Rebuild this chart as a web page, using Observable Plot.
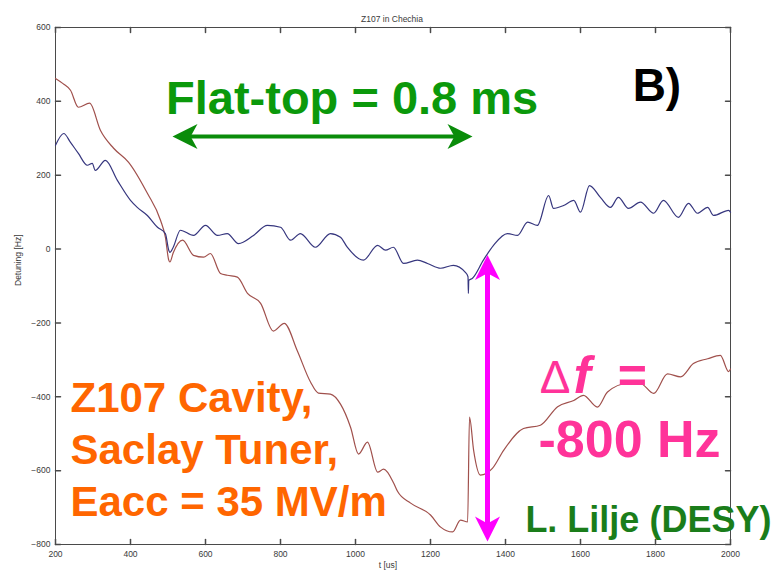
<!DOCTYPE html>
<html>
<head>
<meta charset="utf-8">
<script src="https://cdn.jsdelivr.net/npm/d3@7"></script>
<script src="https://cdn.jsdelivr.net/npm/@observablehq/plot@0.6"></script>
<style>
  body { margin: 0; background: #fff; }
  #chart { width: 781px; height: 574px; }
</style>
</head>
<body>
<div id="chart"></div>
<script>
// Detuning during the RF pulse, Z107 cavity in Chechia (time in µs, detuning in Hz)
const blueT = [200, 222, 240, 261, 285, 298, 306, 333, 365, 400, 418, 445, 472, 493, 502, 505, 514, 533, 568, 600,
  632, 658, 688, 728, 765, 800, 827, 853, 893, 933, 960, 978, 1021, 1059, 1080, 1101, 1128, 1165, 1192, 1227,
  1261, 1293, 1300, 1301, 1302, 1312, 1341, 1368, 1405, 1432, 1459, 1485, 1515, 1528, 1555, 1582, 1600, 1624,
  1653, 1680, 1701, 1728, 1760, 1795, 1821, 1861, 1888, 1912, 1939, 1955, 1995, 2000];
const blueHz = [281, 313, 289, 259, 227, 232, 213, 240, 186, 132, 113, 91, 59, 42, -3, -9, 5, 51, 37, 64,
  37, 42, 15, 37, 64, 59, 24, 42, 5, 42, 32, 5, -30, 10, -3, 5, -39, -30, -39, -52,
  -44, -63, -75, -120, -85, -79, -30, 10, 42, 37, 73, 64, 145, 110, 118, 132, 100, 172,
  140, 113, 140, 110, 127, 97, 132, 86, 124, 97, 113, 91, 105, 100];

const redT = [200, 220, 240, 261, 291, 320, 355, 395, 445, 480, 493, 502, 505, 514, 539, 568, 595, 613, 640, 658,
  685, 712, 747, 781, 810, 845, 880, 901, 933, 960, 987, 1008, 1032, 1059, 1075, 1102, 1112, 1147, 1200, 1227,
  1259, 1280, 1299, 1304, 1315, 1333, 1365, 1395, 1448, 1493, 1539, 1582, 1608, 1645, 1672, 1725, 1760, 1795,
  1832, 1867, 1901, 1939, 1973, 1995, 2000];
const redHz = [462, 448, 430, 384, 395, 321, 273, 235, 151, 78, 32, -30, -35, -10, 24, -17, -22, -12, -66, -71,
  -76, -120, -147, -222, -201, -276, -360, -390, -393, -420, -483, -555, -523, -604, -596, -634, -656, -688, -720, -753,
  -766, -734, -739, -455, -545, -612, -594, -545, -486, -477, -427, -410, -396, -428, -387, -364, -364, -391,
  -338, -346, -310, -297, -288, -332, -325];

const xTicks = [200, 400, 600, 800, 1000, 1200, 1400, 1600, 1800, 2000];
const yTicks = [-800, -600, -400, -200, 0, 200, 400, 600];

// Flat-top window (µs) and the detuning swing (Hz)
const flatTopStart = 512;
const flatTopEnd = 1312;
const swingTime = 1352;
const swingTop = 0;
const swingBottom = -800;

const blue = blueT.map((t, i) => ({t, hz: blueHz[i]}));
const red = redT.map((t, i) => ({t, hz: redHz[i]}));

const font = "Liberation Sans, Arial, Helvetica, sans-serif";

// Filled barbed arrowhead, tip at the origin, pointing up
const barb = {
  draw(ctx, size) {
    const r = Math.sqrt(size / Math.PI);
    ctx.moveTo(0, 0);
    ctx.lineTo(r, 2 * r);
    ctx.lineTo(0, 1.45 * r);
    ctx.lineTo(-r, 2 * r);
    ctx.closePath();
  }
};

// Short inward tick, drawn from the anchor along the vector direction
const tickShape = {
  draw(ctx, l) {
    ctx.moveTo(0, 0);
    ctx.lineTo(0, -l);
  }
};

const frameColor = "#4a4a4a";
const tickText = "#3a3a3a";

const chart = Plot.plot({
  width: 781,
  height: 574,
  marginLeft: 55,
  marginRight: 51,
  marginTop: 27,
  marginBottom: 30,
  style: {fontFamily: font, background: "#fff", overflow: "visible"},
  x: {type: "linear", domain: [200, 2000]},
  y: {type: "linear", domain: [-800, 600]},
  marks: [
    // tick labels
    Plot.axisX(xTicks, {anchor: "bottom", tickSize: 0, tickPadding: 6, tickFormat: "d", fontSize: 8.5, fill: tickText, label: null}),
    Plot.axisY(yTicks, {anchor: "left", tickSize: 0, tickPadding: 5, tickFormat: "d", fontSize: 8.5, fill: tickText, label: null}),
    // inward ticks on all four sides
    Plot.vector(xTicks, {x: d => d, frameAnchor: "bottom", rotate: 0, length: 5, anchor: "start", shape: tickShape, stroke: frameColor}),
    Plot.vector(xTicks, {x: d => d, frameAnchor: "top", rotate: 180, length: 5, anchor: "start", shape: tickShape, stroke: frameColor}),
    Plot.vector(yTicks, {y: d => d, frameAnchor: "left", rotate: 90, length: 5, anchor: "start", shape: tickShape, stroke: frameColor}),
    Plot.vector(yTicks, {y: d => d, frameAnchor: "right", rotate: -90, length: 5, anchor: "start", shape: tickShape, stroke: frameColor}),
    Plot.frame({stroke: frameColor, strokeWidth: 1}),
    // axis titles and plot title
    Plot.text(["t [us]"], {frameAnchor: "bottom", dx: -5, dy: 23, fontSize: 8.5, fill: tickText}),
    Plot.text(["Detuning [Hz]"], {frameAnchor: "left", dx: -37, rotate: -90, fontSize: 8.5, fill: tickText}),
    Plot.text(["Z107 in Chechia"], {frameAnchor: "top", dx: -1, dy: -12, fontSize: 8.5, fill: tickText}),
    // detuning traces
    Plot.line(red, {x: "t", y: "hz", curve: "monotone-x", stroke: "#a0504c", strokeWidth: 1.2}),
    Plot.line(blue, {x: "t", y: "hz", curve: "monotone-x", stroke: "#36367e", strokeWidth: 1.2}),
    // flat-top duration arrow
    Plot.arrow([0], {x1: flatTopStart, x2: flatTopEnd, y1: 305, y2: 305, headLength: 0, insetStart: 15, insetEnd: 15, stroke: "#0a8c0a", strokeWidth: 4}),
    Plot.dot([flatTopStart], {x: d => d, y: 305, symbol: barb, r: 12.5, rotate: -90, fill: "#0a8c0a", stroke: null}),
    Plot.dot([flatTopEnd], {x: d => d, y: 305, symbol: barb, r: 12.5, rotate: 90, fill: "#0a8c0a", stroke: null}),
    Plot.text(["Flat-top = 0.8 ms"], {x: 991, y: 365, textAnchor: "middle", lineAnchor: "bottom", fontSize: 47, fontWeight: "bold", fill: "#0b990b"}),
    Plot.text(["B)"], {x: 1739, y: 402, textAnchor: "start", lineAnchor: "bottom", fontSize: 46, fontWeight: "bold", fill: "#000"}),
    // detuning swing arrow
    Plot.arrow([0], {x1: swingTime, x2: swingTime, y1: swingTop, y2: swingBottom, headLength: 0, insetStart: 20, insetEnd: 12, stroke: "#ff00ff", strokeWidth: 5}),
    Plot.dot([swingTop], {x: swingTime, y: d => d, symbol: barb, r: 12.5, rotate: 0, dy: 6, fill: "#ff00ff", stroke: null}),
    Plot.dot([swingBottom], {x: swingTime, y: d => d, symbol: barb, r: 12.5, rotate: 180, dy: -3, fill: "#ff00ff", stroke: null}),
    Plot.text(["\u0394"], {x: 1491, y: -390, textAnchor: "start", lineAnchor: "bottom", fontSize: 46, fill: "#ff3399"}),
    Plot.text(["f"], {x: 1581, y: -390, textAnchor: "start", lineAnchor: "bottom", fontSize: 52, fontWeight: "bold", fontStyle: "italic", fill: "#ff3399"}),
    Plot.text(["="], {x: 1699, y: -390, textAnchor: "start", lineAnchor: "bottom", fontSize: 50, fontWeight: "bold", fill: "#ff3399"}),
    Plot.text(["-800 Hz"], {x: 1488, y: -564, textAnchor: "start", lineAnchor: "bottom", fontSize: 52, fontWeight: "bold", fill: "#ff3399"}),
    // cavity description and credit
    Plot.text(["Z107 Cavity,\nSaclay Tuner,\nEacc = 35 MV/m"], {x: 240, y: -723, textAnchor: "start", lineAnchor: "bottom", lineHeight: 1.24, fontSize: 42, fontWeight: "bold", fill: "#ff6600"}),
    Plot.text(["L. Lilje (DESY)"], {x: 1453, y: -767, textAnchor: "start", lineAnchor: "bottom", fontSize: 36, fontWeight: "bold", fill: "#1a7d1a"})
  ]
});

document.getElementById("chart").appendChild(chart);
</script>
</body>
</html>
